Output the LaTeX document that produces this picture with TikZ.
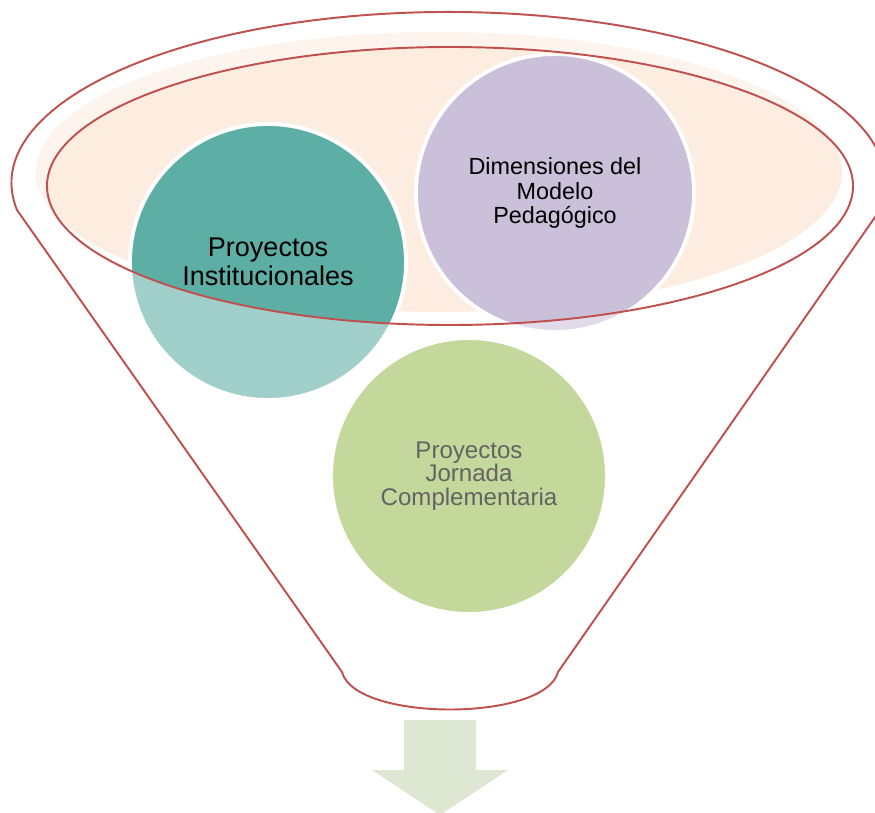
\documentclass[tikz,border=0pt]{standalone}
\usepackage{fontspec}
\setmainfont{Liberation Sans}
\definecolor{funnelred}{RGB}{192,80,77}
\definecolor{peach}{RGB}{253,237,224}
\definecolor{tealc}{RGB}{93,174,165}
\definecolor{lilac}{RGB}{202,192,218}
\definecolor{leaf}{RGB}{196,216,156}
\definecolor{arrowgreen}{RGB}{222,231,210}
\definecolor{greytext}{RGB}{99,99,99}

\begin{document}
\begin{tikzpicture}[
  ring/.style={circle, minimum size=5.52cm, inner sep=0pt, draw=white, line width=2.2pt, align=center},
  rim/.style={draw=funnelred, line width=1.1pt}
]
\useasboundingbox (0,0) rectangle (17.5,16.24);
\clip (0,0) rectangle (17.5,16.24);

% top of the funnel
\fill[peach] (8.78,12.8) ellipse [x radius=8.06, y radius=2.8];

\node[ring, fill=tealc, font=\fontsize{15.4}{16.5}\selectfont] (inst) at (5.36,11) {Proyectos\\Institucionales};
\node[ring, fill=lilac, minimum size=5.56cm, font=\fontsize{13.3}{13.8}\selectfont] (dim) at (11.1,12.38) {Dimensiones del\\Modelo\\Pedagógico};

% funnel body, washed, with its rim
\coordinate (L) at (0.34,12.04);
\coordinate (BL) at (6.84,2.8);
\coordinate (BR) at (11.16,2.8);
\coordinate (E) at (9,12.52);
\path[rim, fill=white, fill opacity=0.42, even odd rule]
  (L) arc[start angle=189.1, end angle=-9.1, x radius=8.74, y radius=3.42] -- (BR)
  .. controls (10.9,1.8) and (7.1,1.8) .. (BL) -- cycle
  (E) ellipse [x radius=8.06, y radius=2.78];

\node[ring, fill=leaf, text=greytext, font=\fontsize{13.7}{13.5}\selectfont] (jor) at (9.38,6.72) {Proyectos\\Jornada\\Complementaria};

% arrow out of the funnel
\fill[arrowgreen] (8.08,1.84) -- (9.52,1.84) -- (9.52,0.84) -- (10.16,0.84) -- (8.8,-0.06) -- (7.44,0.84) -- (8.08,0.84) -- cycle;
\end{tikzpicture}
\end{document}
